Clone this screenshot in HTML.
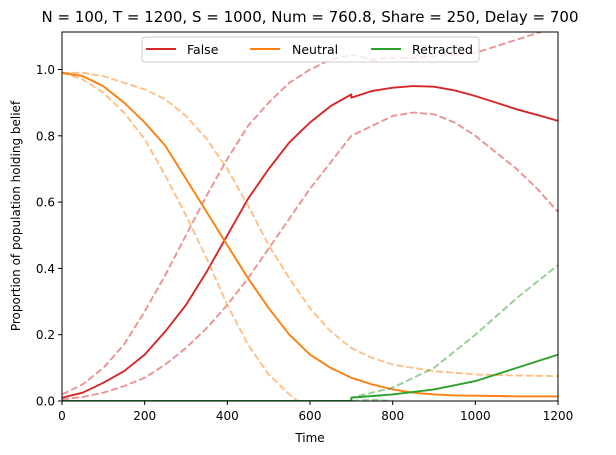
<!DOCTYPE html>
<html><head><meta charset="utf-8"><style>
body{margin:0;background:#fff;}
svg{display:block;font-family:"DejaVu Sans","Liberation Sans",sans-serif;}
</style></head><body>
<svg id="chart" width="616" height="455" viewBox="0 0 616 455">
<defs><clipPath id="pc"><rect x="62" y="32" width="496" height="369"/></clipPath></defs>
<text x="310" y="22" font-size="15" text-anchor="middle">N = 100, T = 1200, S = 1000, Num = 760.8, Share = 250, Delay = 700</text>
<g id="series" clip-path="url(#pc)"></g>
<rect x="62" y="32" width="496" height="369" fill="none" stroke="#000" stroke-width="1"/>
<g id="axes"></g>
<text x="310" y="442" font-size="12" text-anchor="middle">Time</text>
<text transform="translate(20,216) rotate(-90)" font-size="12" text-anchor="middle">Proportion of population holding belief</text>
<g>
<rect x="142" y="37" width="337" height="25" rx="3" fill="#fff" fill-opacity="0.8" stroke="#ccc"/>
<line x1="146" y1="49" x2="176" y2="49" stroke="#d62728" stroke-width="2"/>
<text x="187" y="54" font-size="12.5">False</text>
<line x1="250" y1="49" x2="280" y2="49" stroke="#ff7f0e" stroke-width="2"/>
<text x="292" y="54" font-size="12.5">Neutral</text>
<line x1="371" y1="49" x2="401" y2="49" stroke="#2ca02c" stroke-width="2"/>
<text x="412" y="54" font-size="12.5">Retracted</text>
</g>
</svg>
<script>
const xTicks=[0,200,400,600,800,1000,1200];
const yTicks=[0,0.2,0.4,0.6,0.8,1.0];
const falseT=[0,50,100,150,200,250,300,350,400,450,500,550,600,650,700,700,750,800,850,900,950,1000,1050,1100,1150,1200];
const falseMean=[.01,.025,.055,.09,.14,.21,.29,.39,.50,.61,.70,.78,.84,.89,.925,.915,.935,.945,.95,.948,.937,.92,.90,.88,.863,.845];
const gridT=[0,50,100,150,200,250,300,350,400,450,500,550,600,650,700,750,800,850,900,950,1000,1050,1100,1150,1200];
const falseUpper=[.02,.05,.1,.17,.27,.38,.5,.62,.73,.83,.9,.96,1.0,1.03,1.045,1.03,1.035,1.035,1.04,1.045,1.05,1.07,1.09,1.11,1.13];
const falseLower=[.005,.012,.025,.045,.07,.11,.16,.22,.29,.37,.46,.55,.64,.72,.80,.83,.86,.87,.865,.84,.80,.75,.70,.64,.57];
const neutralMean=[.99,.98,.95,.90,.84,.77,.67,.57,.47,.37,.28,.20,.14,.10,.07,.05,.035,.025,.02,.017,.016,.015,.014,.014,.014];
const neutralUpper=[.99,.99,.98,.96,.94,.91,.86,.79,.70,.59,.47,.37,.28,.21,.16,.13,.11,.10,.09,.085,.08,.078,.077,.076,.075];
const lowT=[0,50,100,150,200,250,300,350,400,450,500,550,600];
const neutralLower=[.99,.97,.93,.87,.79,.68,.56,.43,.29,.17,.08,.02,-.03];
const retT=[0,700,700,800,900,1000,1100,1200];
const retMean=[0,0,.01,.02,.035,.06,.10,.14];
const retUpper=[0,0,.01,.04,.10,.20,.31,.41];
const retLowT=[0,700,750,800];
const retLower=[0,0,.004,0];
const X=t=>62+t*496/1200, Y=v=>401-v*331.5;
const NS='http://www.w3.org/2000/svg';
const sg=document.getElementById('series'), ag=document.getElementById('axes');
function line(ts,vs,color,dashed,name){
  const p=document.createElementNS(NS,'path');
  p.setAttribute('d',ts.map((t,i)=>(i?'L':'M')+X(t).toFixed(1)+','+Y(vs[i]).toFixed(1)).join(''));
  p.setAttribute('fill','none');p.setAttribute('stroke',color);p.setAttribute('stroke-width','1.9');
  p.setAttribute('stroke-linejoin','round');
  if(dashed){p.setAttribute('stroke-dasharray','7,3');p.setAttribute('stroke-opacity','0.5');}
  
  
  sg.appendChild(p);
}
line(falseT,falseMean,'#d62728',false,'false-mean-line');
line(gridT,falseUpper,'#d62728',true,'false-upper-band');
line(gridT,falseLower,'#d62728',true,'false-lower-band');
line(gridT,neutralMean,'#ff7f0e',false,'neutral-mean-line');
line(gridT,neutralUpper,'#ff7f0e',true,'neutral-upper-band');
line(lowT,neutralLower,'#ff7f0e',true,'neutral-lower-band');
line(retT,retUpper,'#2ca02c',true,'retracted-upper-band');
line(retLowT,retLower,'#2ca02c',true,'retracted-lower-band');
line(retT,retMean,'#2ca02c',false,'retracted-mean-line');
xTicks.forEach(t=>{
  const l=document.createElementNS(NS,'line');
  l.setAttribute('x1',X(t));l.setAttribute('x2',X(t));l.setAttribute('y1',401);l.setAttribute('y2',405);l.setAttribute('stroke','#000');
  
  
  ag.appendChild(l);
  const s=document.createElementNS(NS,'text');
  s.setAttribute('x',X(t));s.setAttribute('y',420);s.setAttribute('font-size','12');s.setAttribute('text-anchor','middle');
  s.textContent=t;
  
  
  ag.appendChild(s);
});
yTicks.forEach(v=>{
  const l=document.createElementNS(NS,'line');
  l.setAttribute('x1',58);l.setAttribute('x2',62);l.setAttribute('y1',Y(v));l.setAttribute('y2',Y(v));l.setAttribute('stroke','#000');
  
  
  ag.appendChild(l);
  const s=document.createElementNS(NS,'text');
  s.setAttribute('x',55);s.setAttribute('y',Y(v)+4.5);s.setAttribute('font-size','12');s.setAttribute('text-anchor','end');
  s.textContent=v.toFixed(1);
  
  
  ag.appendChild(s);
});
</script>
</body></html>
